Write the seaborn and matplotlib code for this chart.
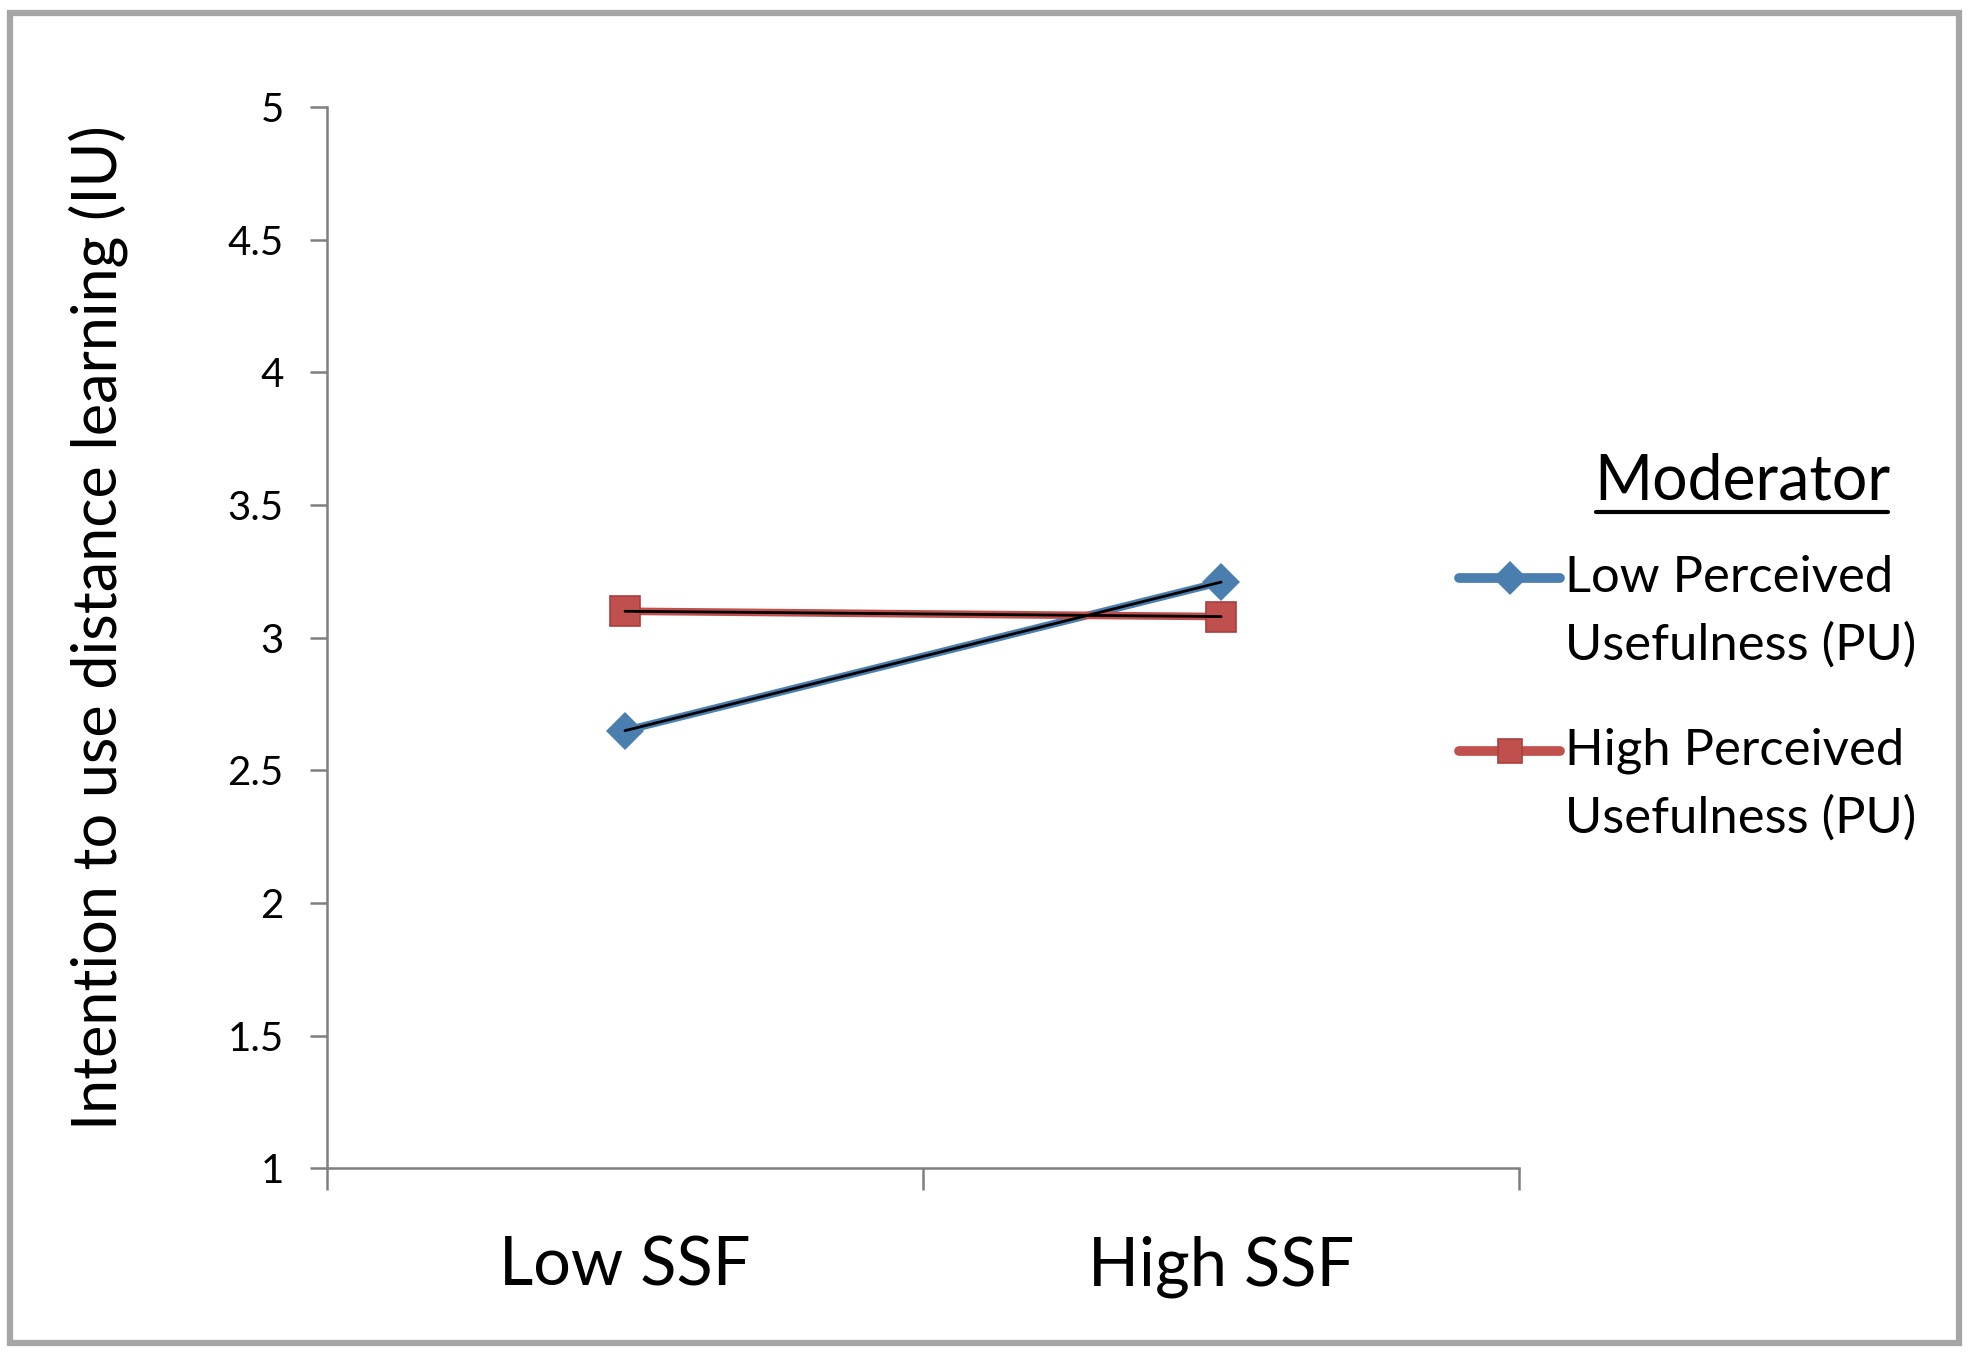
import pandas as pd
import seaborn as sns
import matplotlib.pyplot as plt
from matplotlib.patches import Rectangle
from matplotlib.lines import Line2D

# data
ssf_levels = ['Low SSF', 'High SSF']
low_pu = [2.65, 3.21]
high_pu = [3.10, 3.08]
series_names = ['Low Perceived\nUsefulness (PU)', 'High Perceived\nUsefulness (PU)']
y_ticks = [1, 1.5, 2, 2.5, 3, 3.5, 4, 4.5, 5]

df = pd.DataFrame({
    'SSF': ssf_levels * 2,
    'IU': low_pu + high_pu,
    'Moderator': [series_names[0]] * 2 + [series_names[1]] * 2,
})

sns.set_style('white')
plt.rcParams['font.family'] = ['Lato', 'DejaVu Sans']
plt.rcParams['text.color'] = 'black'
plt.rcParams['axes.labelcolor'] = 'black'
plt.rcParams['xtick.labelcolor'] = 'black'
plt.rcParams['ytick.labelcolor'] = 'black'

fig = plt.figure(figsize=(19.73, 13.57), dpi=100)
ax = fig.add_axes([0.1657, 0.139, 0.6043, 0.782])

palette = {series_names[0]: '#4a7eae', series_names[1]: '#c0504d'}
sns.lineplot(data=df, x='SSF', y='IU', hue='Moderator', style='Moderator',
             palette=palette, markers={series_names[0]: 'D', series_names[1]: 's'},
             dashes=False, linewidth=5.5, markersize=19, markeredgewidth=0, ax=ax)
for ln in ax.lines:
    if ln.get_marker() == 's':
        ln.set_markersize(22)
        ln.set_markeredgewidth(1.2)
        ln.set_markeredgecolor('#a8403d')
# thin dark core line through each series
sns.lineplot(data=df, x='SSF', y='IU', units='Moderator', estimator=None,
             color='black', linewidth=2.0, legend=False, ax=ax)

ax.set_xlim(-0.5, 1.5)
ax.set_ylim(1, 5)
ax.set_yticks(y_ticks)
ax.set_yticklabels([f'{t:g}' for t in y_ticks], fontsize=29)
ax.set_xticks([0, 1])
ax.set_xticklabels(ssf_levels, fontsize=48)
ax.set_xticks([-0.5, 0.5, 1.5], minor=True)
ax.tick_params(axis='x', which='major', length=0, pad=48)
ax.tick_params(axis='x', which='minor', length=16, width=1.8, color='#7f7f7f',
               direction='out', bottom=True)
ax.tick_params(axis='y', length=12, width=1.8, color='#7f7f7f', direction='out',
               pad=19, left=True)
ax.set_xlabel('')
ax.set_ylabel('Intention to use distance learning (IU)', fontsize=44, va='center')
ax.yaxis.set_label_coords(-0.192, 0.51)

for side in ['top', 'right']:
    ax.spines[side].set_visible(False)
for side in ['left', 'bottom']:
    ax.spines[side].set_color('#7f7f7f')
    ax.spines[side].set_linewidth(1.8)

handles, labels = ax.get_legend_handles_labels()
leg = ax.legend(handles, labels, loc='upper left', bbox_to_anchor=(0.7395, 0.591),
                bbox_transform=fig.transFigure, frameon=False, fontsize=36.5,
                handlelength=2.0, handletextpad=0.1, labelspacing=1.15,
                borderaxespad=0, borderpad=0)
for t in leg.get_texts():
    t.set_linespacing(1.57)
    t.set_color('black')
# handles sit beside the first line of each label, as in Excel
for h in leg.get_lines():
    h.set_linewidth(7)
    h.set_markersize(17)
    h.set_ydata([y + 25 for y in h.get_ydata()])

fig.text(0.883, 0.632, 'Moderator', fontsize=45, ha='center', va='baseline')
fig.add_artist(Line2D([0.809, 0.957], [0.623, 0.623], transform=fig.transFigure,
                      color='black', linewidth=3))

fig.patches.append(Rectangle((0.005, 0.0103), 0.988, 0.98, transform=fig.transFigure,
                             fill=False, edgecolor='#a6a6a6', linewidth=4.5))

fig.savefig('out.png', dpi=100)
